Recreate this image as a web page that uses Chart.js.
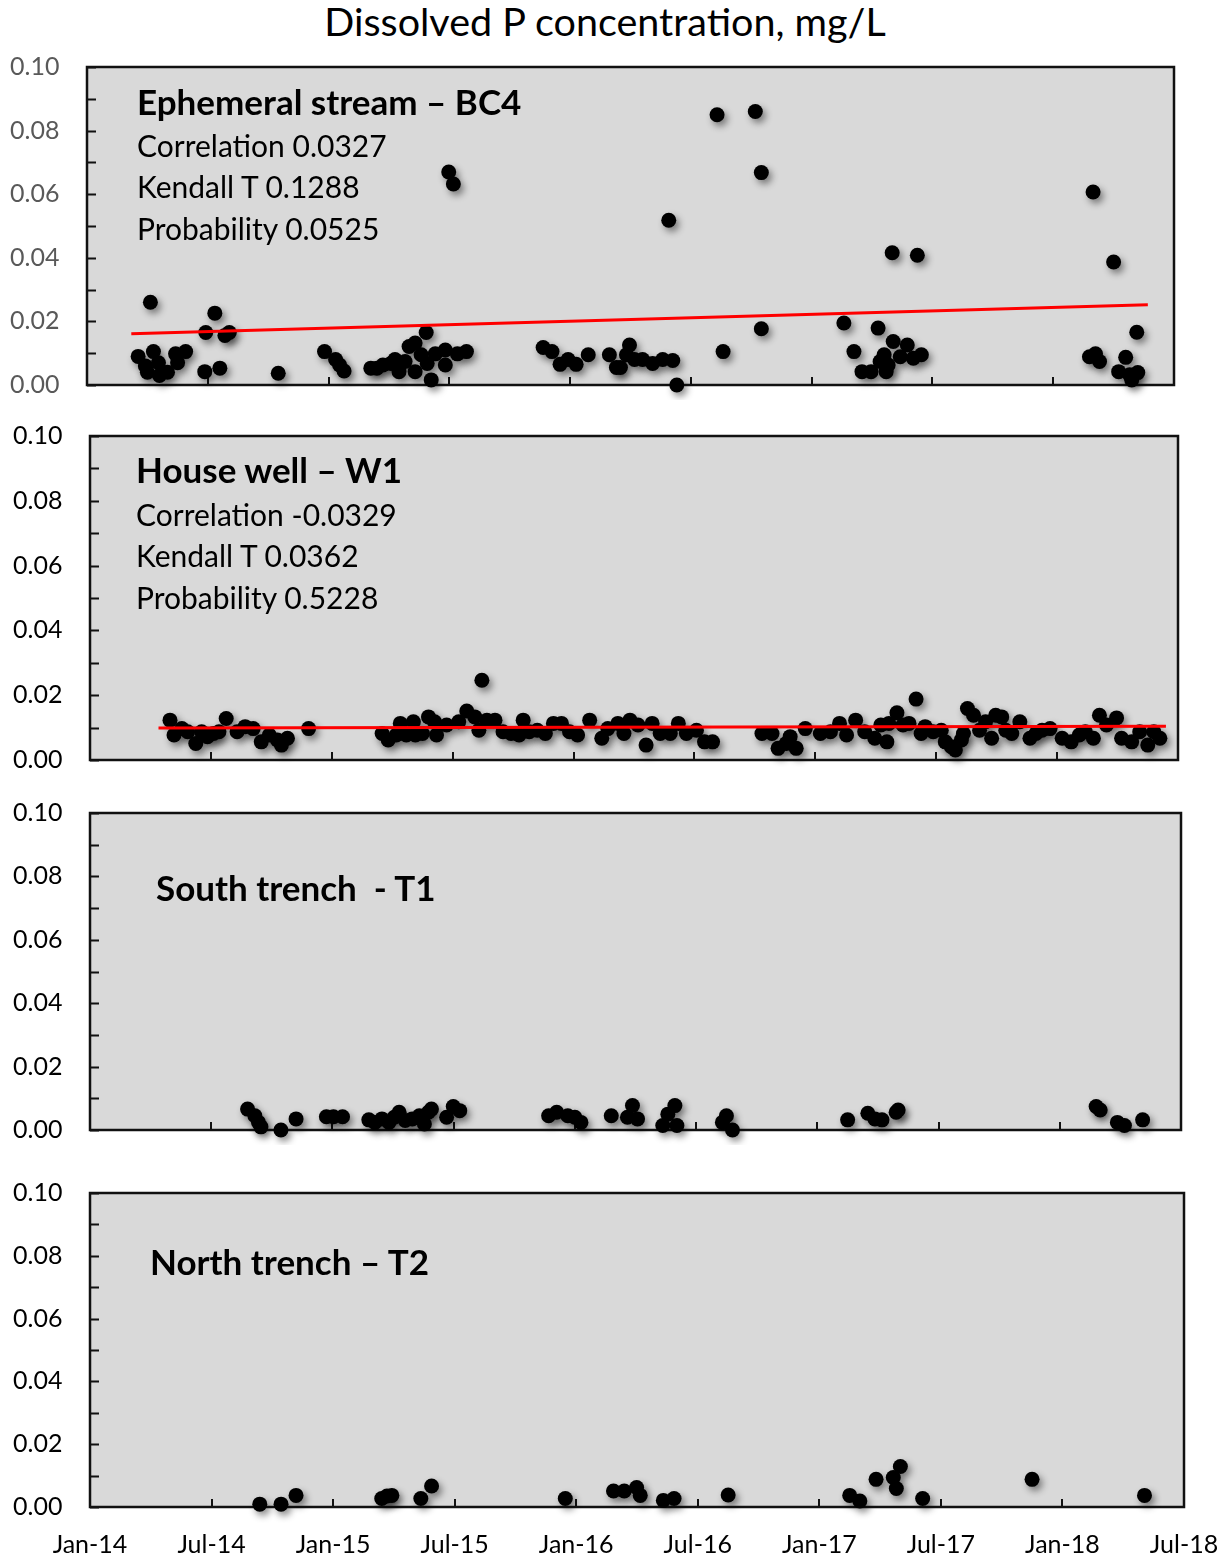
<!DOCTYPE html>
<html lang="en">
<head>
    <meta charset="UTF-8">
    <title>Dissolved P concentration</title>
    <script src="https://cdn.jsdelivr.net/npm/chart.js"></script>
    <style>
        body { margin: 0; background: #fff; font-family: Lato, sans-serif; }
        #page { position: relative; width: 1228px; height: 1560px; overflow: hidden; }
        canvas { position: absolute; left: 0; }
        .title { position: absolute; left: 0; width: 1210px; top: -2px; text-align: center; font-size: 39.5px; line-height: 46px; color: #000; }
        .note { position: absolute; font-size: 30px; line-height: 30px; color: #000; white-space: pre; }
        .note.head { font-weight: bold; font-size: 35px; line-height: 35px; }
    </style>
</head>
<body>
<div id="page">
    <div class="title">Dissolved P concentration, mg/L</div>

    <canvas id="c1" width="1228" height="350" style="top:50px"></canvas>
    <canvas id="c2" width="1228" height="355" style="top:420px"></canvas>
    <canvas id="c3" width="1228" height="350" style="top:795px"></canvas>
    <canvas id="c4" width="1228" height="385" style="top:1175px"></canvas>

    <!-- panel notes -->
    <div class="note head" style="left:137px;top:84px">Ephemeral stream – BC4</div>
    <div class="note" style="left:137px;top:130px">Correlation 0.0327</div>
    <div class="note" style="left:137px;top:171px">Kendall T 0.1288</div>
    <div class="note" style="left:137px;top:213px">Probability 0.0525</div>

    <div class="note head" style="left:136px;top:452px">House well – W1</div>
    <div class="note" style="left:136px;top:499px">Correlation -0.0329</div>
    <div class="note" style="left:136px;top:540px">Kendall T 0.0362</div>
    <div class="note" style="left:136px;top:582px">Probability 0.5228</div>

    <div class="note head" style="left:156px;top:870px">South trench  - T1</div>
    <div class="note head" style="left:150px;top:1244px">North trench – T2</div>
</div>

<script>
    // x values are months since Jan-14
    const tickLabels = ['Jan-14', 'Jul-14', 'Jan-15', 'Jul-15', 'Jan-16', 'Jul-16', 'Jan-17', 'Jul-17', 'Jan-18', 'Jul-18'];

    // Ephemeral stream - BC4
    const bc4Months = [2.54, 2.9, 3.0, 3.15, 3.3, 3.55, 3.6, 4.0, 4.4, 4.5, 4.9, 5.85, 5.9, 6.35, 6.6, 6.85, 7.07, 9.5,
        11.8, 12.35, 12.55, 12.77, 14.1, 14.4, 14.7, 15.1, 15.3, 15.5, 15.8, 16.0, 16.3, 16.3, 16.6, 16.85, 16.9, 17.1,
        17.3, 17.8, 17.8, 17.97, 18.2, 18.4, 18.85, 22.66, 23.1, 23.5, 23.9, 24.3, 24.9, 25.95, 26.3, 26.5, 26.8, 26.95,
        27.2, 27.6, 28.1, 28.6, 28.9, 29.1, 29.3, 31.3, 31.6, 33.2, 33.5, 33.5, 37.6, 38.1, 38.5, 38.95, 39.3, 39.4,
        39.6, 39.7, 39.8, 40.0, 40.05, 40.4, 40.75, 41.05, 41.25, 41.45, 49.8, 49.98, 50.1, 50.3, 51.0, 51.25, 51.6,
        51.8, 51.9, 52.15, 52.2];
    const bc4Values = [0.009, 0.006, 0.004, 0.026, 0.0105, 0.007, 0.003, 0.004, 0.0098, 0.007, 0.0105, 0.0042, 0.0165,
        0.0226, 0.0053, 0.0156, 0.0165, 0.0037, 0.0105, 0.008, 0.0063, 0.0044, 0.0053, 0.0053, 0.0063, 0.0068, 0.008,
        0.0042, 0.0074, 0.0121, 0.0132, 0.0042, 0.0095, 0.0165, 0.0068, 0.0016, 0.0098, 0.011, 0.0063, 0.067, 0.0632,
        0.0098, 0.0105, 0.0118, 0.0105, 0.0065, 0.008, 0.0065, 0.0095, 0.0095, 0.0055, 0.0055, 0.0095, 0.0126, 0.008,
        0.008, 0.0068, 0.008, 0.0518, 0.0077, 0.0, 0.085, 0.0105, 0.086, 0.0668, 0.0177, 0.0195, 0.0105, 0.0042,
        0.0042, 0.0179, 0.0074, 0.0095, 0.0042, 0.0063, 0.0416, 0.0137, 0.0089, 0.0126, 0.0084, 0.0408, 0.0095,
        0.0089, 0.0607, 0.0098, 0.0074, 0.0387, 0.0042, 0.0087, 0.0032, 0.0016, 0.0166, 0.0039];
    const bc4TrendMonths = [2.2, 52.7];
    const bc4TrendValues = [0.0161, 0.0252];

    // House well - W1
    const w1Months = [3.97, 4.17, 4.56, 4.85, 5.25, 5.54, 5.83, 6.13, 6.4, 6.76, 7.3, 7.7, 8.1, 8.5, 8.9, 9.3, 9.5, 9.8,
        10.85, 14.5, 14.8, 15.2, 15.4, 15.7, 16.05, 16.15, 16.5, 16.8, 17.1, 17.2, 17.7, 18.3, 18.7, 19.1, 19.3, 19.45,
        19.7, 20.1, 20.5, 20.9, 21.3, 21.5, 21.8, 22.2, 22.6, 23.0, 23.4, 23.8, 24.2, 24.8, 25.4, 25.7, 26.2, 26.5,
        26.8, 27.2, 27.6, 27.9, 28.3, 28.8, 29.2, 29.6, 30.1, 30.5, 30.9, 33.35, 33.85, 34.15, 34.55, 34.75, 35.05,
        35.5, 36.25, 36.75, 37.2, 37.55, 38.0, 38.45, 38.95, 39.25, 39.55, 39.65, 40.05, 40.35, 40.65, 41.0, 41.25,
        41.45, 41.85, 42.25, 42.45, 42.75, 42.95, 43.25, 43.35, 43.55, 43.85, 44.15, 44.45, 44.75, 44.95, 45.25,
        45.45, 45.75, 46.15, 46.65, 46.95, 47.25, 47.65, 48.25, 48.7, 49.1, 49.4, 49.8, 50.1, 50.45, 50.95, 51.2,
        51.7, 52.1, 52.5, 52.8, 53.1];
    const w1Values = [0.0123, 0.0077, 0.0097, 0.0087, 0.0051, 0.0087, 0.0072, 0.0082, 0.0087, 0.0128, 0.0087, 0.0103,
        0.0097, 0.0056, 0.0077, 0.0062, 0.0046, 0.0067, 0.0097, 0.0082, 0.0062, 0.0077, 0.0113, 0.0077, 0.0118,
        0.0077, 0.0082, 0.0133, 0.0118, 0.0077, 0.0108, 0.0118, 0.0151, 0.0133, 0.0092, 0.0246, 0.0123, 0.0123,
        0.0087, 0.0082, 0.0077, 0.0123, 0.0087, 0.0092, 0.0082, 0.0113, 0.0113, 0.0087, 0.0077, 0.0123, 0.0067,
        0.0097, 0.0113, 0.0082, 0.0123, 0.0108, 0.0046, 0.0113, 0.0082, 0.0082, 0.0113, 0.0082, 0.0092, 0.0056,
        0.0056, 0.0082, 0.0082, 0.0036, 0.0051, 0.0072, 0.0036, 0.0097, 0.0082, 0.0087, 0.0113, 0.0077, 0.0123,
        0.0087, 0.0067, 0.0108, 0.0056, 0.0113, 0.0146, 0.0108, 0.0113, 0.0188, 0.0082, 0.0103, 0.0087, 0.0092,
        0.0056, 0.0041, 0.0031, 0.0062, 0.0082, 0.0159, 0.0138, 0.0092, 0.0118, 0.0067, 0.0138, 0.0133, 0.0092,
        0.0082, 0.0118, 0.0067, 0.0082, 0.0092, 0.0097, 0.0067, 0.0056, 0.0077, 0.0087, 0.0067, 0.0138, 0.0108,
        0.013, 0.0067, 0.0056, 0.0087, 0.0046, 0.0087, 0.0067];
    const w1TrendMonths = [3.4, 53.4];
    const w1TrendValues = [0.0099, 0.0104];

    // South trench - T1
    const t1Months = [7.8, 8.16, 8.34, 8.46, 9.45, 10.2, 11.7, 12.05, 12.5, 13.8, 14.1, 14.45, 14.8, 15.06, 15.3, 15.6,
        15.95, 16.3, 16.55, 16.75, 16.9, 17.65, 17.98, 18.3, 22.7, 23.1, 23.65, 24.0, 24.3, 25.8, 26.6, 26.85, 27.1,
        28.35, 28.6, 28.95, 29.05, 31.3, 31.5, 31.8, 37.5, 38.5, 38.85, 39.2, 39.9, 40.0, 49.8, 50.0, 50.85, 51.2, 52.1];
    const t1Values = [0.0066, 0.0045, 0.0024, 0.001, 0.0, 0.0035, 0.0042, 0.0042, 0.0042, 0.0032, 0.0024, 0.0035,
        0.0024, 0.004, 0.0056, 0.003, 0.0035, 0.0045, 0.0019, 0.0056, 0.0066, 0.004, 0.0074, 0.0061, 0.0045, 0.0056,
        0.0045, 0.004, 0.0024, 0.0045, 0.004, 0.0077, 0.0035, 0.0014, 0.005, 0.0077, 0.0014, 0.0024, 0.0045, 0.0,
        0.0032, 0.0053, 0.0035, 0.0032, 0.0056, 0.0063, 0.0074, 0.0063, 0.0024, 0.0014, 0.0032];

    // North trench - T2
    const t2Months = [8.38, 9.43, 10.17, 14.4, 14.66, 14.9, 16.33, 16.86, 23.46, 25.84, 26.37, 26.98, 27.16, 28.3, 28.83,
        31.5, 37.5, 38.0, 38.8, 39.65, 39.8, 40.0, 41.1, 46.5, 52.05];
    const t2Values = [0.0009, 0.0009, 0.0037, 0.0027, 0.0035, 0.0037, 0.0027, 0.0067, 0.0027, 0.0051, 0.0051, 0.0062,
        0.0037, 0.0021, 0.0027, 0.0038, 0.0037, 0.0019, 0.0088, 0.0094, 0.0059, 0.0129, 0.0027, 0.0088, 0.0037];

    function toPoints(xs, ys) {
        return xs.map((x, i) => ({ x: x, y: ys[i] }));
    }

    // grey plot area, frame and inward tick marks
    const framePlugin = {
        id: 'frame',
        beforeDatasetsDraw(chart) {
            const { ctx, chartArea: a, scales } = chart;
            ctx.save();
            ctx.fillStyle = '#d9d9d9';
            ctx.fillRect(a.left, a.top, a.right - a.left, a.bottom - a.top);
            ctx.strokeStyle = '#111';
            ctx.lineWidth = 2;
            ctx.beginPath();
            scales.y.ticks.forEach(t => {
                const py = Math.round(scales.y.getPixelForValue(t.value)) + 0.5;
                ctx.moveTo(a.left, py);
                ctx.lineTo(a.left + 9, py);
            });
            scales.x.ticks.forEach(t => {
                const px = Math.round(scales.x.getPixelForValue(t.value));
                ctx.moveTo(px, a.bottom);
                ctx.lineTo(px, a.bottom - 8);
            });
            ctx.stroke();
            ctx.lineWidth = 2.5;
            ctx.strokeRect(a.left, a.top, a.right - a.left, a.bottom - a.top);
            ctx.restore();
        }
    };

    // soft drop shadow under the dots only
    const shadowPlugin = {
        id: 'dotShadow',
        beforeDatasetDraw(chart, args) {
            if (!chart.data.datasets[args.index].dots) return;
            const ctx = chart.ctx;
            ctx.save();
            ctx.shadowColor = 'rgba(0,0,0,0.45)';
            ctx.shadowBlur = 7;
            ctx.shadowOffsetX = 3;
            ctx.shadowOffsetY = 4;
        },
        afterDatasetDraw(chart, args) {
            if (!chart.data.datasets[args.index].dots) return;
            chart.ctx.restore();
        }
    };

    function makePanel(id, opts) {
        const datasets = [];
        if (opts.trend) {
            datasets.push({
                data: opts.trend,
                showLine: true,
                borderColor: '#ff0000',
                borderWidth: 3,
                pointRadius: 0,
                order: 0
            });
        }
        datasets.push({
            dots: true,
            data: opts.points,
            pointRadius: 7.5,
            pointHoverRadius: 7.5,
            backgroundColor: '#000',
            borderWidth: 0,
            clip: false,
            order: 1
        });

        return new Chart(document.getElementById(id), {
            type: 'scatter',
            data: { datasets: datasets },
            options: {
                responsive: false,
                animation: false,
                events: [],
                layout: { padding: { top: opts.top, right: 1228 - opts.right, left: opts.labelLeft, bottom: 0 } },
                plugins: { legend: { display: false }, tooltip: { enabled: false } },
                scales: {
                    x: {
                        type: 'linear',
                        min: 0,
                        max: 54,
                        grid: { display: false, drawTicks: false },
                        border: { display: false },
                        ticks: {
                            display: opts.xLabels,
                            stepSize: 6,
                            maxRotation: 0,
                            autoSkip: false,
                            padding: 0,
                            color: '#000',
                            // tall line box pushes the label centre ~38px below the axis
                            font: { family: 'Lato', size: 25, lineHeight: 3.04 },
                            callback: v => tickLabels[Math.round(v / 6)]
                        },
                        afterFit: s => { s.height = opts.bottom; }
                    },
                    y: {
                        min: 0,
                        max: 0.1,
                        grid: { display: false, drawTicks: false },
                        border: { display: false },
                        ticks: {
                            stepSize: 0.01,
                            autoSkip: false,
                            padding: 0,
                            crossAlign: 'far',
                            color: opts.yColor,
                            font: { family: 'Lato', size: 25 },
                            callback: v => (Math.round(v * 100) % 2 === 0 ? v.toFixed(2) : '')
                        },
                        afterFit: s => { s.width = opts.left - opts.labelLeft; }
                    }
                }
            },
            plugins: [framePlugin, shadowPlugin]
        });
    }

    makePanel('c1', {
        points: toPoints(bc4Months, bc4Values),
        trend: toPoints(bc4TrendMonths, bc4TrendValues),
        labelLeft: 10, left: 87, right: 1174, top: 17, bottom: 15, xLabels: false, yColor: '#595959'
    });
    makePanel('c2', {
        points: toPoints(w1Months, w1Values),
        trend: toPoints(w1TrendMonths, w1TrendValues),
        labelLeft: 13, left: 90, right: 1178, top: 16, bottom: 15, xLabels: false, yColor: '#000'
    });
    makePanel('c3', {
        points: toPoints(t1Months, t1Values),
        labelLeft: 13, left: 90, right: 1181, top: 18, bottom: 15, xLabels: false, yColor: '#000'
    });
    makePanel('c4', {
        points: toPoints(t2Months, t2Values),
        labelLeft: 13, left: 90, right: 1184, top: 18, bottom: 53, xLabels: true, yColor: '#000'
    });
</script>
</body>
</html>
